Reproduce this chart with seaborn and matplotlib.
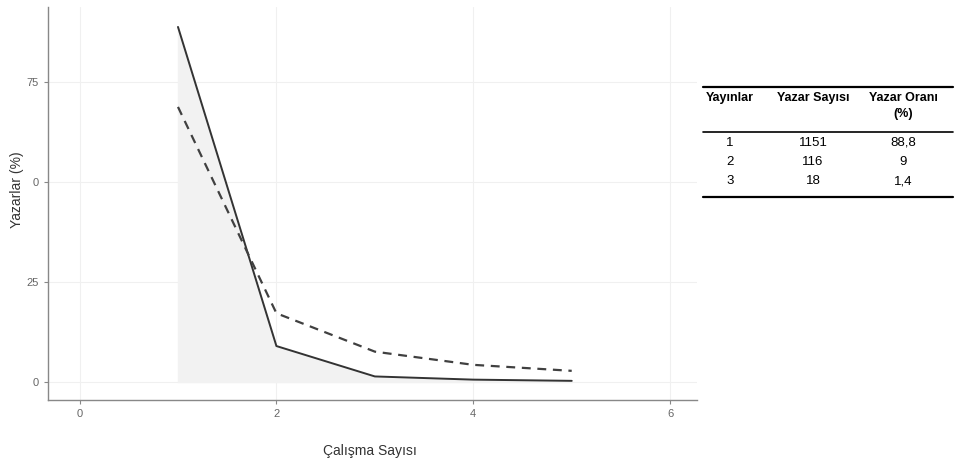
import numpy as np
import pandas as pd
import seaborn as sns
import matplotlib
matplotlib.use("Agg")
import matplotlib.pyplot as plt
from matplotlib.lines import Line2D

# observed and expected (Lotka) author shares
calisma = [1, 2, 3, 4, 5]
gozlenen = [88.8, 9.0, 1.4, 0.6, 0.3]
beklenen = [68.8, 17.2, 7.6, 4.3, 2.8]

y_ticks = [0, 25, 50, 75]
y_tick_labels = ["0", "25", "0", "75"]
x_ticks = [0, 2, 4, 6]

tablo_baslik = ["Yayınlar", "Yazar Sayısı", "Yazar Oranı\n(%)"]
tablo_yayin = ["1", "2", "3"]
tablo_sayi = ["1151", "116", "18"]
tablo_oran = ["88,8", "9", "1,4"]

sns.set_theme(style="white")
plt.rcParams["font.family"] = ["Liberation Sans", "DejaVu Sans"]

df = pd.DataFrame({"Calisma": calisma, "Gozlenen": gozlenen, "Beklenen": beklenen})

W, H = 961, 463
def fx(px):
    return px / W
def fy(py):
    return 1 - py / H

fig = plt.figure(figsize=(9.61, 4.63), dpi=100)
ax = fig.add_axes([0.05, 0.136, 0.675, 0.849])

ax.fill_between(df["Calisma"], 0, df["Gozlenen"], color="#f2f2f2", zorder=1)
sns.lineplot(data=df, x="Calisma", y="Gozlenen", ax=ax, color="#333333", lw=1.4, zorder=3)
sns.lineplot(data=df, x="Calisma", y="Beklenen", ax=ax, color="#404040", lw=1.6,
             linestyle=(0, (4, 3)), zorder=3)

ax.set_xlim(-0.32, 6.27)
ax.set_ylim(-4.5, 93.8)
ax.set_xticks(x_ticks)
ax.set_xticklabels([str(v) for v in x_ticks])
ax.set_yticks(y_ticks)
ax.set_yticklabels(y_tick_labels)
ax.grid(True, color="#f0f0f0", lw=0.8)
ax.set_axisbelow(True)
for s in ["top", "right"]:
    ax.spines[s].set_visible(False)
for s in ["left", "bottom"]:
    ax.spines[s].set_color("#888888")
    ax.spines[s].set_linewidth(1.0)
ax.tick_params(axis="both", colors="#888888", labelsize=8, length=3, width=0.8,
               left=True, bottom=True, labelcolor="#666666")
ax.set_xlabel("")
ax.set_ylabel("")
fig.text(fx(370), fy(451), "Çalışma Sayısı", ha="center", va="center",
         fontsize=10, color="#333333")
fig.text(fx(17), fy(190), "Yazarlar (%)", ha="center", va="center", rotation=90,
         fontsize=10, color="#333333")

# table at right
narrow = ["Liberation Sans Narrow", "Liberation Sans", "DejaVu Sans"]
col_x = [730, 813, 903]
for cx, txt in zip(col_x, tablo_baslik):
    fig.text(fx(cx), fy(92), txt, ha="center", va="top", fontsize=9, fontweight="bold",
             family=narrow, color="black", linespacing=1.45)
for i in range(len(tablo_yayin)):
    ry = 143 + i * 19
    for cx, txt in zip(col_x, [tablo_yayin[i], tablo_sayi[i], tablo_oran[i]]):
        fig.text(fx(cx), fy(ry), txt, ha="center", va="center", fontsize=9.5,
                 family=narrow, color="black")
for py, lw in [(87, 1.6), (132, 1.2), (197, 1.6)]:
    fig.add_artist(Line2D([fx(703), fx(953)], [fy(py), fy(py)], color="black", lw=lw))

fig.savefig("out.png", dpi=100)
